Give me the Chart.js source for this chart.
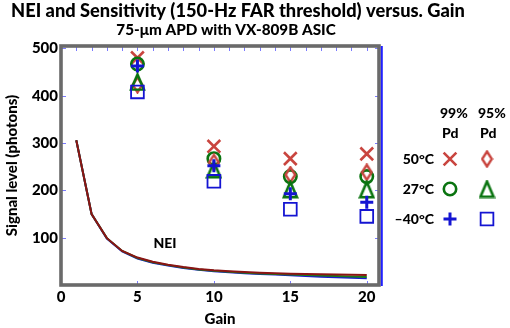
<!DOCTYPE html>
<html><head><meta charset="utf-8">
<script src="https://cdn.jsdelivr.net/npm/chart.js@4.4.1/dist/chart.umd.min.js"></script>
<style>html,body{margin:0;padding:0;background:#fff;}canvas{display:block;}</style>
</head><body>
<canvas id="c" width="510" height="328"></canvas>
<script>
// ---------- data ----------
const titleText = 'NEI and Sensitivity (150-Hz FAR threshold) versus. Gain';
const subtitleText = '75-\u03bcm APD with VX-809B ASIC';
const xTitle = 'Gain';
const yTitle = 'Signal level (photons)';
const xTicks = [0, 5, 10, 15, 20];
const yTicks = [100, 200, 300, 400, 500];

const gains = [5, 10, 15, 20];
const hot99  = [480, 293, 267, 277];  // 50°C, 99% Pd (x)
const hot95  = [423, 259, 233, 238];  // 50°C, 95% Pd (diamond)
const room99 = [467, 267, 229, 229];  // 27°C, 99% Pd (circle)
const room95 = [429, 244, 202, 202];  // 27°C, 95% Pd (triangle)
const cold99 = [463, 252, 193, 175];  // -40°C, 99% Pd (plus)
const cold95 = [408, 219, 160, 145];  // -40°C, 95% Pd (square)

const neiGain = [1,2,3,4,5,6,7,8,9,10,11,12,13,14,15,16,17,18,19,20];
const neiHot  = [306,150,99,72,58,49,43,38,34,31,29,27.5,26,25,24,23,22.5,22,21.5,21];
const neiRoom = [306,150,99,72,57,48,42,37,33,30,28,26,24.5,23,22,21,20,19,18,17];
const neiCold = [306,150,98,71,56,47,41,36,32,29,27,25,23,22,20.5,19,17.5,16.5,15.5,14];
const neiLabel = 'NEI';

const legendRows = ['50\u00b0C', '27\u00b0C', '\u201340\u00b0C'];
const legendCols = ['99%', '95%'];
const legendSub = 'Pd';

// ---------- styles ----------
const RED = '#c9453f', GREEN = '#0a7410', BLUE = '#1414d2';
const FONT = 'Lato';
const W = '900';

function makeDiamond() {
  const c = document.createElement('canvas'); c.width = 13; c.height = 18;
  const g = c.getContext('2d'); g.strokeStyle = RED; g.lineWidth = 2.4;
  g.beginPath(); g.moveTo(6.5, 1.5); g.lineTo(11.3, 9); g.lineTo(6.5, 16.5); g.lineTo(1.7, 9); g.closePath(); g.stroke();
  return c;
}
function makeTriangle() {
  const c = document.createElement('canvas'); c.width = 17; c.height = 19;
  const g = c.getContext('2d'); g.strokeStyle = GREEN; g.lineWidth = 2.6; g.lineJoin = 'miter';
  g.beginPath(); g.moveTo(8.5, 2); g.lineTo(15, 17.3); g.lineTo(2, 17.3); g.closePath(); g.stroke();
  return c;
}
const diamondImg = makeDiamond();
const triangleImg = makeTriangle();

const pts = arr => gains.map((g, i) => ({ x: g, y: arr[i] }));
const line = arr => neiGain.map((g, i) => ({ x: g, y: arr[i] }));

const markerStyles = [
  [{ pointStyle: 'crossRot', radius: 9, borderWidth: 2.6, borderColor: RED }, { pointStyle: diamondImg }],
  [{ pointStyle: 'circle', radius: 6.2, borderWidth: 2.6, borderColor: GREEN }, { pointStyle: triangleImg }],
  [{ pointStyle: 'cross', radius: 6.5, borderWidth: 3, borderColor: BLUE }, { pointStyle: 'rect', radius: 9, borderWidth: 1.8, borderColor: BLUE }]
];

function scatterDS(label, arr, st, order) {
  return {
    type: 'scatter', label, data: pts(arr), order,
    pointStyle: st.pointStyle, pointRadius: st.radius || 8, pointBorderWidth: st.borderWidth || 1,
    pointBorderColor: st.borderColor || '#000', pointBackgroundColor: 'rgba(0,0,0,0)',
    borderColor: st.borderColor || '#000', backgroundColor: 'rgba(0,0,0,0)'
  };
}
function lineDS(label, arr, color, order) {
  return { type: 'line', label, data: line(arr), order, borderColor: color, borderWidth: 2,
    pointRadius: 0, tension: 0, fill: false };
}

const frameTicks = {
  id: 'frameTicks',
  beforeDatasetsDraw(chart) {
    const { ctx, chartArea: a, scales: { x, y } } = chart;
    ctx.save();
    ctx.strokeStyle = '#7a7aff'; ctx.lineWidth = 1;
    ctx.beginPath();
    for (let g = 1; g <= 20; g++) { const px = Math.round(x.getPixelForValue(g)) + 0.5; ctx.moveTo(px, a.top); ctx.lineTo(px, a.top + 5); }
    xTicks.forEach(v => { const px = Math.round(x.getPixelForValue(v)) + 0.5; ctx.moveTo(px, a.bottom); ctx.lineTo(px, a.bottom - 4); });
    yTicks.forEach(v => { const py = Math.round(y.getPixelForValue(v)) + 0.5; ctx.moveTo(a.left, py); ctx.lineTo(a.left + 5, py); ctx.moveTo(a.right, py); ctx.lineTo(a.right - 4, py); });
    ctx.stroke();
    ctx.strokeStyle = '#6a6a6a'; ctx.lineWidth = 3.6;
    ctx.strokeRect(a.left, a.top, a.right - a.left, a.bottom - a.top);
    ctx.strokeStyle = '#2020ff'; ctx.lineWidth = 2;
    ctx.beginPath(); ctx.moveTo(a.right + 2.8, a.top); ctx.lineTo(a.right + 2.8, a.bottom + 1); ctx.stroke();
    ctx.restore();
  }
};

function fitFont(ctx, text, width, weight) {
  let s = 20;
  while (s > 8) { ctx.font = `${weight} ${s}px ${FONT}`; if (ctx.measureText(text).width <= width) break; s -= 0.25; }
  return s;
}

const annotations = {
  id: 'annotations',
  afterDraw(chart) {
    const { ctx, scales: { x, y } } = chart;
    ctx.save();
    ctx.fillStyle = '#000'; ctx.textAlign = 'center'; ctx.textBaseline = 'middle';
    fitFont(ctx, titleText, 456, W); ctx.fillText(titleText, 238, 11);
    fitFont(ctx, subtitleText, 222, W); ctx.fillText(subtitleText, 226, 30);
    ctx.font = `${W} 14px ${FONT}`;
    ctx.fillText(neiLabel, x.getPixelForValue(6.8), y.getPixelForValue(87));
    // legend
    ctx.font = `${W} 14px ${FONT}`; ctx.textAlign = 'left';
    const colX = [440, 478], markX = [450, 487], rowY = [159, 189, 219];
    legendCols.forEach((t, i) => { ctx.fillText(t, colX[i], 113); ctx.fillText(legendSub, colX[i] + 2, 133); });
    ctx.textAlign = 'right';
    legendRows.forEach((t, r) => {
      ctx.fillStyle = '#000';
      ctx.fillText(t, 434, rowY[r]);
      markerStyles[r].forEach((st, c) => {
        ctx.save();
        ctx.strokeStyle = st.borderColor || '#000'; ctx.fillStyle = 'rgba(0,0,0,0)';
        ctx.lineWidth = st.borderWidth || 1;
        Chart.helpers.drawPoint(ctx, { pointStyle: st.pointStyle, radius: st.radius || 8, borderWidth: st.borderWidth || 1, rotation: 0 }, markX[c], rowY[r]);
        ctx.restore();
      });
    });
    ctx.restore();
  }
};

const tickFont = { family: FONT, weight: W, size: 15 };
new Chart(document.getElementById('c'), {
  data: {
    datasets: [
      scatterDS('-40°C 95% Pd', cold95, markerStyles[2][1], 1),
      scatterDS('-40°C 99% Pd', cold99, markerStyles[2][0], 2),
      scatterDS('27°C 95% Pd', room95, markerStyles[1][1], 3),
      scatterDS('50°C 95% Pd', hot95, markerStyles[0][1], 4),
      scatterDS('27°C 99% Pd', room99, markerStyles[1][0], 5),
      scatterDS('50°C 99% Pd', hot99, markerStyles[0][0], 6),
      lineDS('NEI 50°C', neiHot, '#8b1414', 7),
      lineDS('NEI 27°C', neiRoom, '#1a7a1a', 8),
      lineDS('NEI -40°C', neiCold, '#1a1ad0', 9)
    ]
  },
  options: {
    responsive: false, animation: false, devicePixelRatio: 1,
    layout: { padding: { top: 46, right: 131, left: 0, bottom: 0 } },
    plugins: { legend: { display: false }, tooltip: { enabled: false }, title: { display: false } },
    scales: {
      x: {
        type: 'linear', min: 0, max: 20.8,
        afterBuildTicks: s => { s.ticks = xTicks.map(v => ({ value: v })); },
        ticks: { font: tickFont, color: '#000', padding: 3, maxRotation: 0, autoSkip: false },
        grid: { display: false, drawTicks: false }, border: { display: false },
        title: { display: true, text: xTitle, font: tickFont, color: '#000', padding: { top: 0, bottom: 0 } },
        afterFit: s => { s.height = 43; }
      },
      y: {
        type: 'linear', min: 0, max: 505,
        afterBuildTicks: s => { s.ticks = yTicks.map(v => ({ value: v })); },
        ticks: { font: tickFont, color: '#000', padding: 3 },
        grid: { display: false, drawTicks: false }, border: { display: false },
        title: { display: true, text: yTitle, font: tickFont, color: '#000', padding: { top: 3, bottom: 0 } },
        afterFit: s => { s.width = 61; }
      }
    }
  },
  plugins: [frameTicks, annotations]
});
</script>
</body></html>
